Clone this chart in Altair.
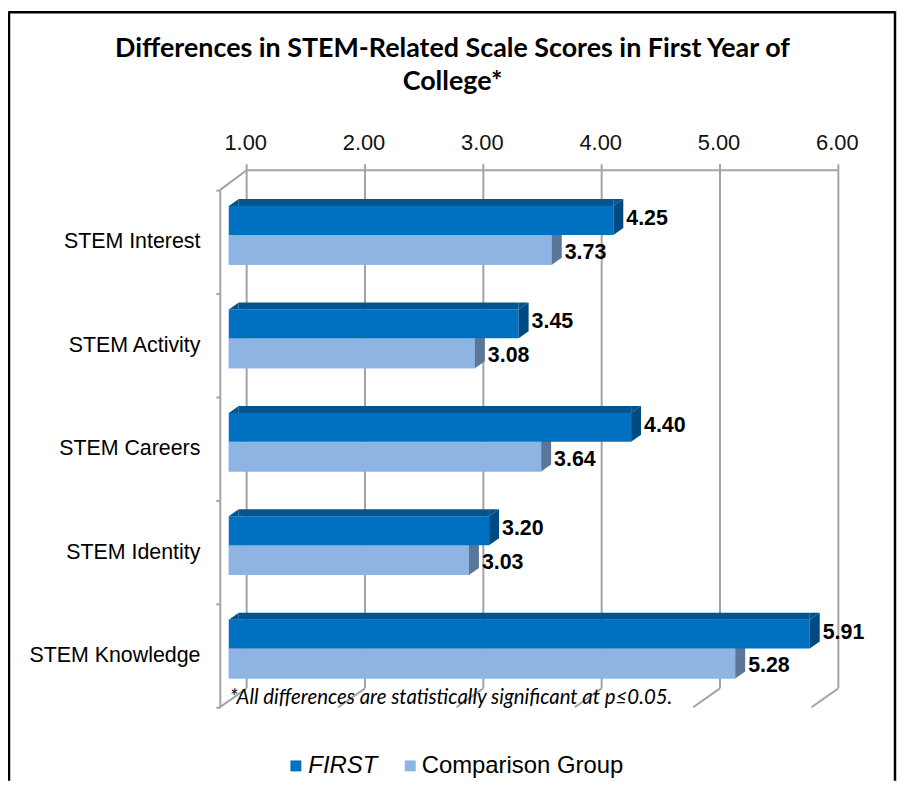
import altair as alt
import pandas as pd

# ---- data ----
categories = ["STEM Interest", "STEM Activity", "STEM Careers", "STEM Identity", "STEM Knowledge"]
first_values = [4.25, 3.45, 4.40, 3.20, 5.91]
comparison_values = [3.73, 3.08, 3.64, 3.03, 5.28]
series_names = ["FIRST", "Comparison Group"]
tick_values = [1.0, 2.0, 3.0, 4.0, 5.0, 6.0]
title_lines = ["Differences in STEM-Related Scale Scores in First Year of", "College*"]
footnote = "*All differences are statistically significant at p\u22640.05."

# ---- styling ----
C_FIRST = "#0070C0"
C_FIRST_TOP = "#00548F"
C_FIRST_SIDE = "#004A82"
C_COMP = "#8DB4E2"
C_COMP_SIDE = "#5B7699"
GRAY = "#A3A3A3"
ARIAL = "Liberation Sans"
CALIBRI = "Lato"

W, H = 595, 520
PAD = {"left": 222, "top": 181, "right": 77, "bottom": 74}
L = PAD["left"]

first_df = pd.DataFrame({"category": categories, "value": first_values, "start": tick_values[0]})
comp_df = pd.DataFrame({"category": categories, "value": comparison_values, "start": tick_values[0]})
ticks_df = pd.DataFrame({"tick": tick_values, "label": [f"{t:.2f}" for t in tick_values]})
frame_df = pd.DataFrame({"a": [tick_values[0]], "b": [tick_values[-1]]})

xscale = alt.Scale(domain=[tick_values[0], tick_values[-1]], zero=False, nice=False)
yscale = alt.Scale(domain=categories, paddingInner=0, paddingOuter=0)

X = lambda f: alt.X(f, type="quantitative", scale=xscale, axis=None)
YC = lambda: alt.Y("category:N", scale=yscale, sort=categories)

# ---- walls / gridlines ----
grid = alt.Chart(ticks_df).mark_rule(color=GRAY, strokeWidth=2, xOffset=18).encode(
    x=X("tick"), y=alt.value(-26), y2=alt.value(H - 19))
floor = alt.Chart(ticks_df).mark_rule(color=GRAY, strokeWidth=2, xOffset=18, x2Offset=-9).encode(
    x=X("tick"), x2="tick", y=alt.value(H - 19), y2=alt.value(H))
top_frame = alt.Chart(frame_df).mark_rule(color=GRAY, strokeWidth=2, xOffset=18, x2Offset=18).encode(
    x=X("a"), x2="b", y=alt.value(-20))
left_diag = alt.Chart(frame_df).mark_rule(color=GRAY, strokeWidth=2, xOffset=-9, x2Offset=18).encode(
    x=X("a"), x2="a", y=alt.value(0), y2=alt.value(-20))
tick_labels = alt.Chart(ticks_df).mark_text(font=ARIAL, fontSize=22, dx=17, baseline="middle", color="#111").encode(
    x=X("tick"), y=alt.value(-47), text="label")

# ---- bars ----
Y = alt.Y("category:N", scale=yscale, sort=categories, title=None,
          axis=alt.Axis(offset=9, domain=True, domainColor=GRAY, domainWidth=2,
                        ticks=True, tickBand="extent", tickSize=4, tickColor=GRAY, tickWidth=2,
                        labelFont=ARIAL, labelFontSize=21.5, labelColor="#000", labelPadding=16,
                        grid=False))

comp_bar = alt.Chart(comp_df).mark_bar(size=30, yOffset=8, color=C_COMP).encode(
    x=X("start"), x2="value", y=Y)
comp_side = alt.Chart(comp_df).mark_point(shape="M0,-7L10,-14L10,16L0,23Z", size=4, filled=True,
                                          opacity=1, strokeWidth=0, color=C_COMP_SIDE).encode(
    x=X("value"), y=YC())

first_bar = alt.Chart(first_df).mark_bar(size=29, yOffset=-21.5, color=C_FIRST).encode(
    x=X("start"), x2="value", y=YC())
first_top = alt.Chart(first_df).mark_bar(size=7, yOffset=-39.5, xOffset=10, color=C_FIRST_TOP).encode(
    x=X("start"), x2="value", y=YC())
first_top_left = alt.Chart(first_df).mark_point(shape="M0,-36L10,-43L10,-36Z", size=4, filled=True,
                                                opacity=1, strokeWidth=0, color=C_FIRST_TOP).encode(
    x=X("start"), y=YC())
first_top_right = alt.Chart(first_df).mark_point(shape="M0,-36L0,-43L10,-43Z", size=4, filled=True,
                                                 opacity=1, strokeWidth=0, color=C_FIRST_TOP).encode(
    x=X("value"), y=YC())
first_side = alt.Chart(first_df).mark_point(shape="M0,-36L10,-43L10,-14L0,-7Z", size=4, filled=True,
                                            opacity=1, strokeWidth=0, color=C_FIRST_SIDE).encode(
    x=X("value"), y=YC())

lab_style = dict(font=ARIAL, fontSize=21.5, fontWeight="bold", align="left", baseline="middle", color="#000", dx=13)
first_lab = alt.Chart(first_df).mark_text(dy=-23, **lab_style).encode(
    x=X("value"), y=YC(), text=alt.Text("value:Q", format=".2f"))
comp_lab = alt.Chart(comp_df).mark_text(dy=11, **lab_style).encode(
    x=X("value"), y=YC(), text=alt.Text("value:Q", format=".2f"))

# ---- title, footnote ----
def one(text, x, y, **kw):
    return alt.Chart(first_df).transform_aggregate(n="count()").mark_text(
        text=text, baseline="middle", color="#000", **kw).encode(x=alt.value(x), y=alt.value(y))

title1 = one(title_lines[0], 455 - 8 - L, -142, font=CALIBRI, fontSize=27, fontWeight="bold", align="center")
title2 = one(title_lines[1], 455 - 8 - L, -109, font=CALIBRI, fontSize=27, fontWeight="bold", align="center")
foot = one(footnote, 1, H - 9, font=CALIBRI, fontSize=20.5, fontStyle="italic", align="left")

# ---- legend ----
def legend_item(name, color, sx, tx, italic):
    sq = alt.Chart(first_df).transform_aggregate(n="count()").mark_square(
        size=121, color=color, opacity=1).encode(x=alt.value(sx), y=alt.value(H + 59))
    kw = {"fontStyle": "italic"} if italic else {}
    return sq + one(name, tx, H + 59, font=ARIAL, fontSize=24, align="left", **kw)

leg1 = legend_item(series_names[0], C_FIRST, 297.5 - 8 - L, 310 - 8 - L, True)
leg2 = legend_item(series_names[1], C_COMP, 412.5 - 8 - L, 424 - 8 - L, False)

# ---- outer border ----
bx0, bx1 = 9 - 8 - L, 900 - 8 - L
border_l = alt.Chart(frame_df).mark_rule(color="#000", strokeWidth=2.5).encode(
    x=alt.value(bx0), y=alt.value(-180), y2=alt.value(H + 74))
border_t = alt.Chart(frame_df).mark_rule(color="#000", strokeWidth=2.5).encode(
    x=alt.value(bx0), x2=alt.value(bx1), y=alt.value(-179))
border_r = alt.Chart(frame_df).mark_rule(color="#000", strokeWidth=2.5).encode(
    x=alt.value(bx1), y=alt.value(-180), y2=alt.value(H + 74))

chart = alt.layer(
    comp_bar, grid, floor, top_frame, left_diag, tick_labels,
    comp_bar, comp_side,
    first_bar, first_top, first_top_left, first_top_right, first_side,
    first_lab, comp_lab,
    title1, title2, foot, leg1, leg2,
    border_l, border_t, border_r,
).properties(
    width=W, height=H, padding=PAD,
    autosize=alt.AutoSizeParams(type="none"),
    background="white",
).configure_view(stroke=None)

chart.save("out.html", embed_options={"renderer": "svg", "actions": False})
